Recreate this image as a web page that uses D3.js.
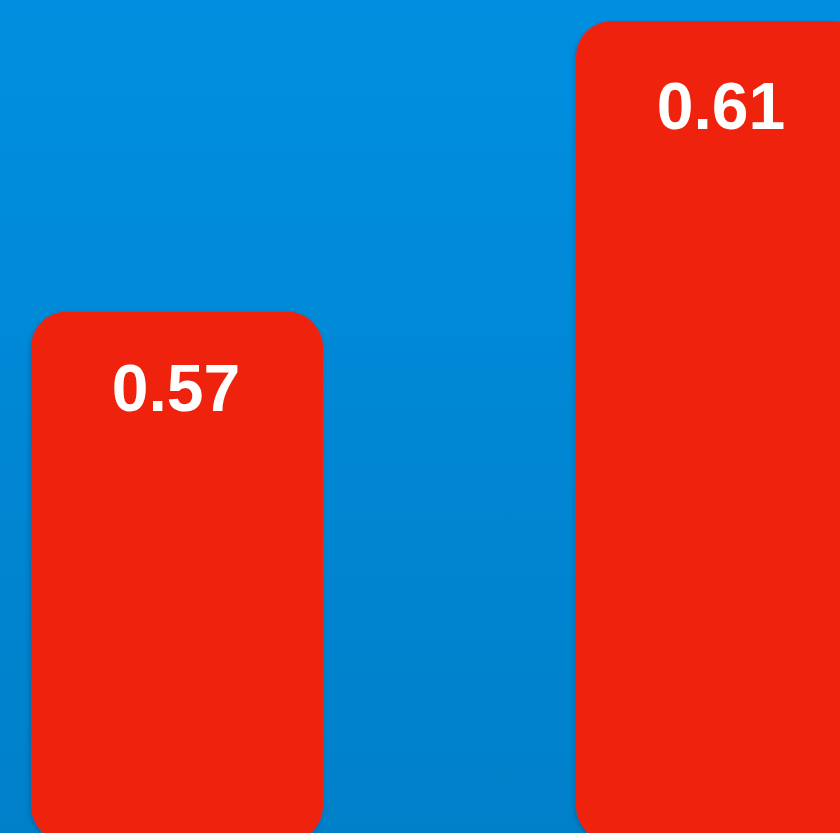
<!DOCTYPE html>
<html>
<head>
<meta charset="utf-8">
<script src="https://cdn.jsdelivr.net/npm/d3@7"></script>
<style>
html,body{margin:0;padding:0;overflow:hidden;background:#0088d6;}
svg{display:block;}
</style>
</head>
<body>
<script>
const categories = ["A", "B"];
const values = [0.57, 0.61];
const labels = ["0.57", "0.61"];

const W = 840, H = 833;
const svg = d3.select("body").append("svg").attr("width", W).attr("height", H);
const defs = svg.append("defs");
const grad = defs.append("linearGradient").attr("id","bg").attr("x1",0).attr("y1",0).attr("x2",0).attr("y2",1);
grad.append("stop").attr("offset","0%").attr("stop-color","#008fe0");
grad.append("stop").attr("offset","100%").attr("stop-color","#0080c9");
const f = defs.append("filter").attr("id","sh").attr("x","-10%").attr("y","-10%").attr("width","130%").attr("height","130%");
f.append("feDropShadow").attr("dx",-1).attr("dy",2).attr("stdDeviation",2).attr("flood-color","#003060").attr("flood-opacity",0.35);

svg.append("rect").attr("width",W).attr("height",H).attr("fill","url(#bg)");

const x = d3.scaleBand().domain(categories).range([31, 868]).paddingInner(0.464).paddingOuter(0);
const y = d3.scaleLinear().domain([0.497, 0.61]).range([842, 21]);

const g = svg.append("g");
g.selectAll("rect.bar").data(values).join("rect")
  .attr("class","bar")
  .attr("x",(d,i)=>x(categories[i]))
  .attr("y",d=>y(d))
  .attr("width",x.bandwidth())
  .attr("height",d=>y(0.497)-y(d))
  .attr("rx",36).attr("ry",36)
  .attr("fill","#ef230c")
  .attr("filter","url(#sh)");

g.selectAll("text.lbl").data(values).join("text")
  .attr("class","lbl")
  .attr("x",(d,i)=>x(categories[i]) + x.bandwidth()/2 - 1)
  .attr("y",d=>{const h = y(0.497)-y(d); return y(d) + 83 + 0.031*h;})
  .attr("text-anchor","middle")
  .attr("fill","#ffffff")
  .attr("font-family","'Liberation Sans', Arial, sans-serif")
  .attr("font-weight","bold")
  .attr("font-size",66)
  .text((d,i)=>labels[i]);
</script>
</body>
</html>
